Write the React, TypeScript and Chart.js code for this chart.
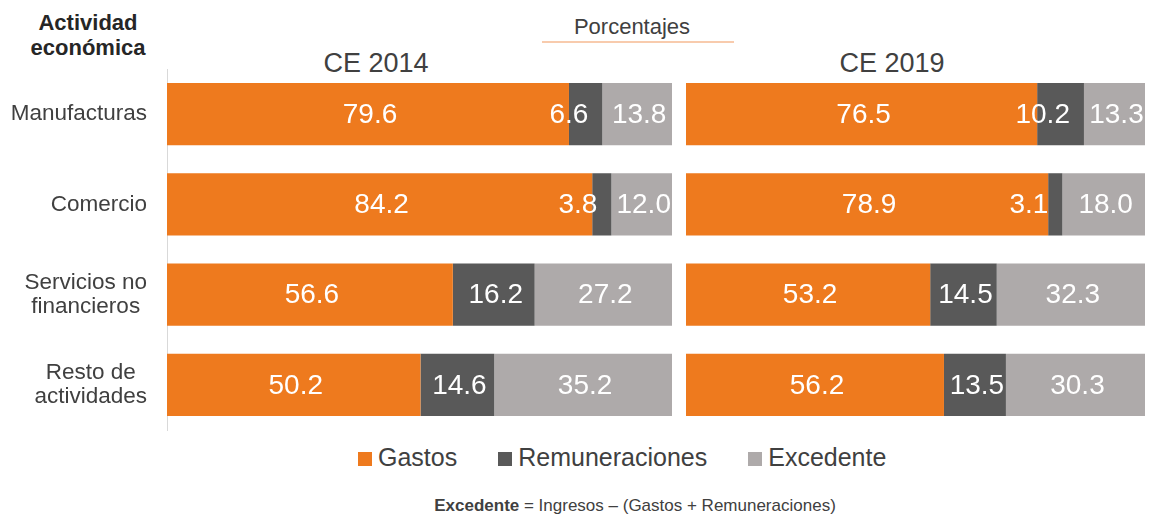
import React, { useEffect, useRef } from "react";
import { Chart, registerables } from "chart.js";

Chart.register(...registerables);

const categories = ["Manufacturas", "Comercio", "Servicios no financieros", "Resto de actividades"];
const categoryLines = [["Manufacturas"], ["Comercio"], ["Servicios no", "financieros"], ["Resto de", "actividades"]];
const seriesNames = ["Gastos", "Remuneraciones", "Excedente"];
const gastos2014 = [79.6, 84.2, 56.6, 50.2];
const remun2014 = [6.6, 3.8, 16.2, 14.6];
const exced2014 = [13.8, 12.0, 27.2, 35.2];
const gastos2019 = [76.5, 78.9, 53.2, 56.2];
const remun2019 = [10.2, 3.1, 14.5, 13.5];
const exced2019 = [13.3, 18.0, 32.3, 30.3];
const panelTitles = ["CE 2014", "CE 2019"];
const colors = ["#EE7A1E", "#595959", "#AEAAAA"];

const FONT = "'Liberation Sans', Arial, Helvetica, sans-serif";
const TEXT = "#404040";

const valueLabels = {
  id: "valueLabels",
  afterDatasetsDraw(chart: any) {
    const ctx = chart.ctx;
    ctx.save();
    ctx.font = `28px ${FONT}`;
    ctx.fillStyle = "#FFFFFF";
    ctx.textBaseline = "middle";
    chart.data.datasets.forEach((ds: any, di: number) => {
      const meta = chart.getDatasetMeta(di);
      meta.data.forEach((bar: any, i: number) => {
        const v = ds.data[i];
        const txt = v.toFixed(1);
        const w = ctx.measureText(txt).width;
        const segW = bar.x - bar.base;
        if (w + 4 > segW) {
          ctx.textAlign = "right";
          ctx.fillText(txt, bar.x - 14, bar.y + 1);
        } else {
          ctx.textAlign = "center";
          ctx.fillText(txt, (bar.x + bar.base) / 2 + 2, bar.y + 1);
        }
      });
    });
    ctx.restore();
  },
};

const categoryLabels = {
  id: "categoryLabels",
  afterDraw(chart: any) {
    const ctx = chart.ctx;
    const y = chart.scales.y;
    ctx.save();
    ctx.font = `22.5px ${FONT}`;
    ctx.fillStyle = TEXT;
    ctx.textBaseline = "middle";
    ctx.textAlign = "center";
    const right = 147;
    const lh = 24;
    categoryLines.forEach((lines, i) => {
      const cy = y.getPixelForValue(i);
      const bw = Math.max(...lines.map((l) => ctx.measureText(l).width));
      const cx = right - bw / 2;
      const y0 = cy - ((lines.length - 1) * lh) / 2;
      lines.forEach((l, k) => ctx.fillText(l, cx, y0 + k * lh));
    });
    ctx.restore();
  },
};

function makeChart(canvas: HTMLCanvasElement, g: number[], r: number[], e: number[], isLeft: boolean) {
  const series = [g, r, e];
  const yScale: any = {
    stacked: true,
    display: isLeft,
    grid: { display: false },
    border: { display: isLeft, color: "#D9D9D9", width: 1 },
    ticks: { display: false },
  };
  if (isLeft) {
    yScale.afterFit = (s: any) => {
      s.width = 167;
    };
  }
  return new Chart(canvas, {
    type: "bar",
    data: {
      labels: categories,
      datasets: seriesNames.map((n, i) => ({
        label: n,
        data: series[i],
        backgroundColor: colors[i],
        borderWidth: 0,
        categoryPercentage: 1,
        barPercentage: 0.69,
      })),
    },
    options: {
      indexAxis: "y",
      responsive: false,
      animation: false,
      layout: {
        padding: isLeft
          ? { left: 0, right: 4, top: 69, bottom: 2 }
          : { left: 6, right: 4, top: 69, bottom: 2 },
      },
      plugins: { legend: { display: false }, tooltip: { enabled: false } },
      scales: {
        x: { stacked: true, min: 0, max: 100, display: false },
        y: yScale,
      },
    } as any,
    plugins: isLeft ? [valueLabels, categoryLabels] : [valueLabels],
  });
}

export default function App() {
  const leftRef = useRef<HTMLCanvasElement>(null);
  const rightRef = useRef<HTMLCanvasElement>(null);

  useEffect(() => {
    const c1 = makeChart(leftRef.current!, gastos2014, remun2014, exced2014, true);
    const c2 = makeChart(rightRef.current!, gastos2019, remun2019, exced2019, false);
    return () => {
      c1.destroy();
      c2.destroy();
    };
  }, []);

  const legendItems = seriesNames.map((n, i) => (
    <div key={n} style={{ display: "flex", alignItems: "center", marginRight: i < 2 ? 41 : 0 }}>
      <div style={{ width: 14, height: 14, background: colors[i], marginRight: 6, marginTop: 3 }} />
      <span>{n}</span>
    </div>
  ));

  return (
    <div
      style={{
        position: "fixed",
        left: 0,
        top: 0,
        width: 1149,
        height: 514,
        background: "#fff",
        fontFamily: FONT,
        color: TEXT,
        overflow: "hidden",
      }}
    >
      <div
        style={{
          position: "absolute",
          left: 0,
          top: 10,
          width: 176,
          textAlign: "center",
          fontWeight: "bold",
          fontSize: 22,
          lineHeight: "25px",
          color: "#262626",
        }}
      >
        Actividad
        <br />
        económica
      </div>
      <div style={{ position: "absolute", left: 532, width: 200, top: 14, textAlign: "center", fontSize: 22 }}>
        Porcentajes
      </div>
      <div style={{ position: "absolute", left: 542, width: 192, top: 41, height: 2, background: "#F8CBAD" }} />
      <div style={{ position: "absolute", left: 276, width: 200, top: 48, textAlign: "center", fontSize: 27 }}>
        {panelTitles[0]}
      </div>
      <div style={{ position: "absolute", left: 792, width: 200, top: 48, textAlign: "center", fontSize: 27 }}>
        {panelTitles[1]}
      </div>
      <canvas
        ref={leftRef}
        width={676}
        height={432}
        style={{ position: "absolute", left: 0, top: 0, width: 676, height: 432 }}
      />
      <canvas
        ref={rightRef}
        width={469}
        height={432}
        style={{ position: "absolute", left: 680, top: 0, width: 469, height: 432 }}
      />
      <div
        style={{
          position: "absolute",
          left: 358,
          top: 443,
          display: "flex",
          alignItems: "center",
          fontSize: 25,
          whiteSpace: "nowrap",
        }}
      >
        {legendItems}
      </div>
      <div
        style={{
          position: "absolute",
          left: 335,
          width: 600,
          top: 496,
          textAlign: "center",
          fontSize: 17,
          whiteSpace: "nowrap",
        }}
      >
        <b>Excedente</b> = Ingresos – (Gastos + Remuneraciones)
      </div>
    </div>
  );
}
